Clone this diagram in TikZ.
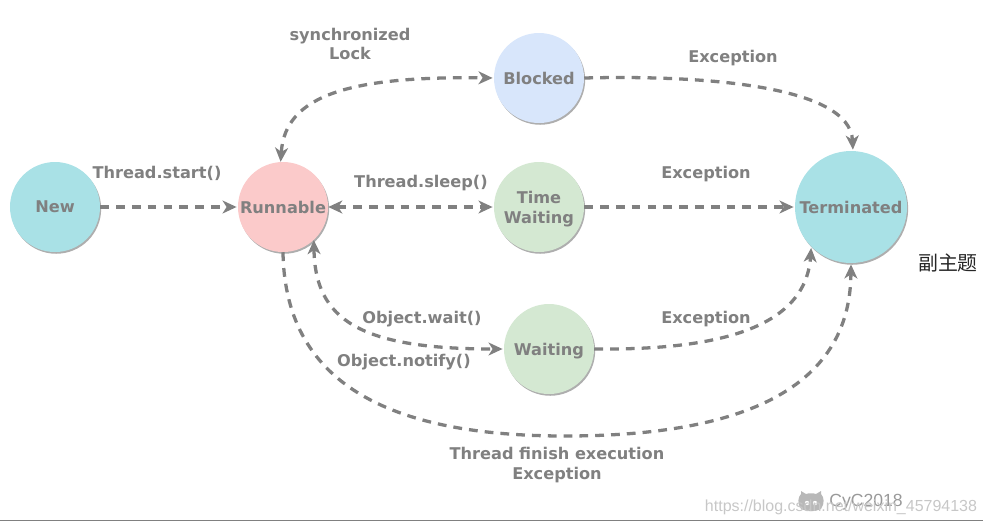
\documentclass[tikz,border=0pt]{standalone}
\usepackage{xcolor}
\usepackage{fontspec}
\setmainfont{DejaVu Sans}
\newfontfamily\cjk{Noto Sans CJK SC}
\newfontfamily\markfont{Liberation Sans}
\definecolor{newcolor}{HTML}{a9e1e6}
\definecolor{runcolor}{HTML}{fbcaca}
\definecolor{blockcolor}{HTML}{d8e6fb}
\definecolor{waitcolor}{HTML}{d4e8d2}
\definecolor{linegray}{HTML}{808080}
\usetikzlibrary{arrows.meta, shadows}
\tikzset{
    state/.style={circle, minimum size=2.7cm, inner sep=0pt, align=center, text=linegray, text depth=0pt, font=\bfseries\fontsize{13.8}{17}\selectfont, drop shadow={shadow xshift=1pt, shadow yshift=-1.5pt, fill=black!45, opacity=0.7}},
    label/.style={text=linegray, align=center, inner sep=0pt, font=\bfseries\fontsize{13.8}{16.3}\selectfont},
    flow/.style={-{Stealth[length=12pt,width=11pt,inset=3.5pt]}, dashed, dash pattern=on 7.5pt off 6pt, line width=2.8pt, draw=linegray, shorten >=1pt},
    twoway/.style={flow, {Stealth[length=12pt,width=11pt,inset=3.5pt]}-{Stealth[length=12pt,width=11pt,inset=3.5pt]}}
}
\begin{document}
\begin{tikzpicture}[x=0.03cm, y=-0.03cm]
    \useasboundingbox (0,0) rectangle (986,526);
    % States
    \node[state, fill=newcolor] (new) at (55,207) {New};
    \node[state, fill=runcolor] (runnable) at (283,207) {Runnable};
    \node[state, fill=blockcolor] (blocked) at (539,78) {Blocked};
    \node[state, fill=waitcolor] (time) at (539,207) {Time\\Waiting};
    \node[state, fill=waitcolor] (waiting) at (549,349) {Waiting};
    \node[state, fill=newcolor, minimum size=3.36cm] (terminated) at (851,207) {Terminated};

    % Arrows
    \draw[flow] (new) -- (runnable);
    \draw[twoway] (runnable) -- (time);
    \draw[flow] (time) -- (terminated);
    \draw[twoway] (runnable.93) .. controls (285,95) and (350,76) .. (blocked.180);
    \draw[flow] (blocked.0) .. controls (700,75) and (850,85) .. (terminated.88);
    \draw[twoway] (runnable.-47) .. controls (315,320) and (360,349) .. (waiting.180);
    \draw[flow] (waiting.0) .. controls (700,350) and (805,335) .. (terminated.-135);
    \draw[flow] (runnable.-90) .. controls (285,390) and (400,436) .. (565,436) .. controls (720,436) and (850,400) .. (terminated.-90);

    % Labels
    \node[label] (lock) at (350,44) {synchronized\\Lock};
    \node[label] (startlabel) at (157,173) {Thread.start()};
    \node[label] (sleeplabel) at (421,183.5) {Thread.sleep()};
    \node[label] (waitlabel) at (422,319) {Object.wait()};
    \node[label] (notifylabel) at (404,362.5) {Object.notify()};
    \node[label] (blockex) at (733,58.5) {Exception};
    \node[label] (timeex) at (706,174.5) {Exception};
    \node[label] (waitex) at (706,319.5) {Exception};
    \node[label] (finish) at (557,465) {Thread finish execution\\Exception};

    % Side text and watermark
    \node[inner sep=0pt, font=\cjk\fontsize{17}{20}\selectfont, text=black!85] (subtitle) at (948,263) {副主题};
    \fill[black!28] (801,509) .. controls (797,503) and (798,497) .. (801,494) -- (801,491) -- (806,494) .. controls (809,493) and (813,493) .. (816,494) -- (821,491) -- (821,494) .. controls (824,497) and (825,503) .. (821,509) .. controls (815,512) and (807,512) .. (801,509) -- cycle;
    \fill[white] (807,503) circle (2.2) (815,503) circle (2.2);
    \node[inner sep=0pt, text=black!40, font=\markfont\fontsize{15}{17}\selectfont] (cyc) at (866,502) {CyC2018};
    \node[inner sep=0pt, text=black!22, font=\markfont\fontsize{13.65}{15}\selectfont] (site) at (841,507) {https://blog.csdn.net/weixin\_45794138};
    \draw[linegray, line width=0.8pt] (0,520) -- (983,520);
\end{tikzpicture}
\end{document}
